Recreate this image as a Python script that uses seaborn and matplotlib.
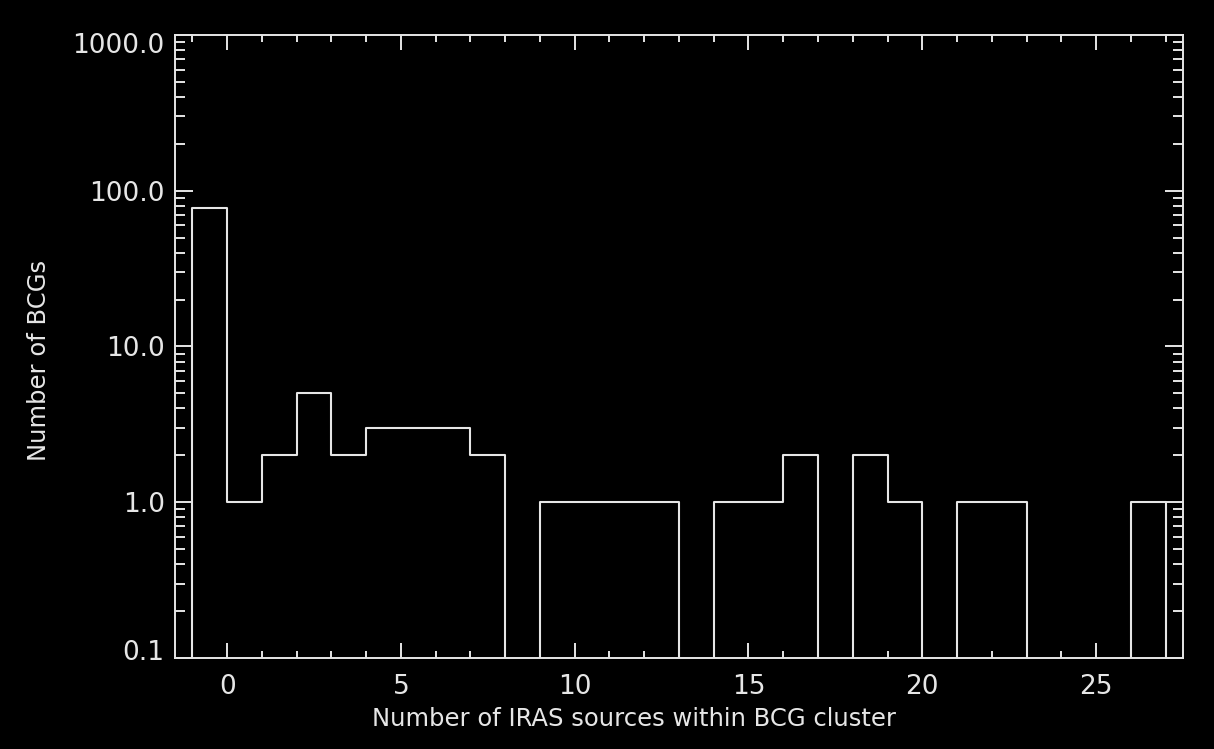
import numpy as np
import pandas as pd
import matplotlib
matplotlib.use("Agg")
import matplotlib.pyplot as plt
import matplotlib.transforms as mtransforms
import seaborn as sns
from matplotlib.ticker import FixedLocator, MultipleLocator, LogLocator, FormatStrFormatter, NullFormatter

# Left edge of each unit-wide bin and the number of BCGs in it
bin_left = [-1, 0, 1, 2, 3, 4, 5, 6, 7, 8, 9, 10, 11, 12, 13,
            14, 15, 16, 17, 18, 19, 20, 21, 22, 23, 24, 25, 26]
n_bcgs = [77, 1, 2, 5, 2, 3, 3, 3, 2, 0, 1, 1, 1, 1, 0,
          1, 1, 2, 0, 2, 1, 0, 1, 1, 0, 0, 0, 1]

x_ticks = [0, 5, 10, 15, 20, 25]
y_ticks = [0.1, 1.0, 10.0, 100.0, 1000.0]

xlabel = "Number of IRAS sources within BCG cluster"
ylabel = "Number of BCGs"

fg = "#e6e6e6"
sns.set_theme(style="ticks", rc={
    "figure.facecolor": "black",
    "axes.facecolor": "black",
    "axes.edgecolor": fg,
    "axes.labelcolor": fg,
    "xtick.color": fg,
    "ytick.color": fg,
    "text.color": fg,
    "axes.linewidth": 1.4,
})
plt.rcParams["font.family"] = ["DejaVu Sans"]

df = pd.DataFrame({"centre": np.asarray(bin_left, dtype=float) + 0.5,
                   "count": np.asarray(n_bcgs, dtype=float)})

fig = plt.figure(figsize=(12.14, 7.49), dpi=100)
ax = fig.add_axes([0.1442, 0.1215, 0.8302, 0.8318])

# one empty bin on each side so the outline drops to the floor at both ends
sns.histplot(data=df, x="centre", weights="count", binwidth=1, binrange=(-2, 28),
             element="step", fill=False, color=fg, linewidth=1.5, ax=ax)
ax.set_yscale("log")

ax.set_xlim(-1.5, 27.5)
ax.set_ylim(0.1, 1000)

ax.xaxis.set_major_locator(FixedLocator(x_ticks))
ax.xaxis.set_minor_locator(MultipleLocator(1))
ax.yaxis.set_major_locator(FixedLocator(y_ticks))
ax.yaxis.set_minor_locator(LogLocator(base=10, subs=np.arange(2, 10)))
ax.yaxis.set_major_formatter(FormatStrFormatter("%.1f"))
ax.yaxis.set_minor_formatter(NullFormatter())

ax.tick_params(axis="x", which="both", direction="in", top=True, bottom=True,
               labelsize=19, pad=11.5, width=1.4)
ax.tick_params(axis="x", which="major", length=10.5)
ax.tick_params(axis="x", which="minor", length=5)
ax.tick_params(axis="y", which="both", direction="in", left=True, right=True,
               labelsize=19, pad=7.5, width=1.4)
ax.tick_params(axis="y", which="major", length=13)
ax.tick_params(axis="y", which="minor", length=7)

for s in ax.spines.values():
    s.set_visible(True)
    s.set_color(fg)
    s.set_linewidth(1.4)

ax.set_xlabel(xlabel, fontsize=17.5)
ax.set_ylabel(ylabel, fontsize=17.5)
ax.xaxis.set_label_coords(0.455, -0.079)
ax.yaxis.set_label_coords(-0.123, 0.478)
ax.grid(False)

# keep the end labels of the log axis inside the frame
major = ax.yaxis.get_major_ticks()
shift = 8 / 100
major[0].label1.set_transform(major[0].label1.get_transform() +
                              mtransforms.ScaledTranslation(0, shift, fig.dpi_scale_trans))
major[-1].label1.set_transform(major[-1].label1.get_transform() +
                               mtransforms.ScaledTranslation(0, -shift, fig.dpi_scale_trans))

fig.savefig("out.png", dpi=100, facecolor="black")
